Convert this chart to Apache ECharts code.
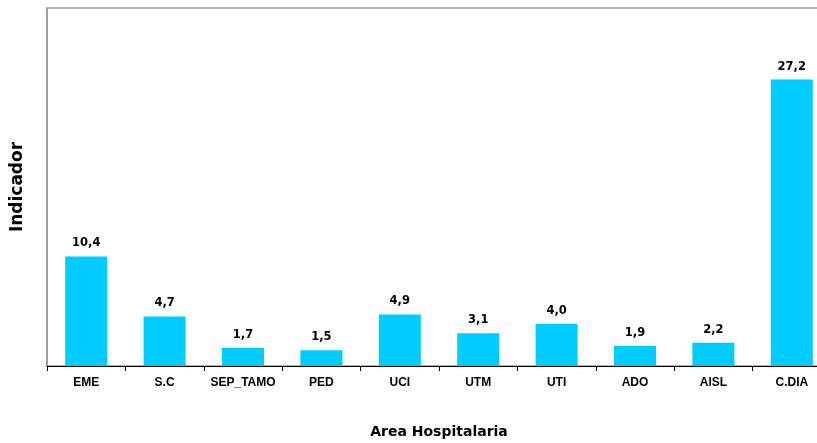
<!DOCTYPE html>
<html><head><meta charset="utf-8">
<script src="https://cdn.jsdelivr.net/npm/echarts@6/dist/echarts.min.js"></script>
<style>html,body{margin:0;padding:0;background:#fff}#c{width:817px;height:443px}</style>
</head><body><div id="c"></div>
<script>
var categories = ['EME','S.C','SEP_TAMO','PED','UCI','UTM','UTI','ADO','AISL','C.DIA'];
var values = [10.4, 4.7, 1.7, 1.5, 4.9, 3.1, 4.0, 1.9, 2.2, 27.2];
var chart = echarts.init(document.getElementById('c'));
var font = '"Liberation Sans", Arial, sans-serif';
var wide = '"DejaVu Sans", sans-serif';
chart.setOption({
  animation: false,
  grid: {left: 47, top: 8, width: 784, height: 358, outerBoundsMode: 'none', containLabel: false,
         show: true, borderColor: '#999', borderWidth: 1.5, backgroundColor: 'transparent'},
  xAxis: {
    type: 'category', data: categories,
    name: 'Area Hospitalaria', nameLocation: 'middle', nameGap: 59,
    nameTextStyle: {fontFamily: wide, fontWeight: 'bold', fontSize: 14, color: '#000'},
    axisLine: {lineStyle: {color: '#000', width: 1}},
    axisTick: {show: true, length: 5, lineStyle: {color: '#000'}},
    axisLabel: {fontFamily: font, fontWeight: 'bold', fontSize: 12, color: '#000', margin: 11, interval: 0}
  },
  yAxis: {
    type: 'value', min: 0, max: 34,
    name: 'Indicador', nameLocation: 'middle', nameGap: 21,
    nameTextStyle: {fontFamily: wide, fontWeight: 'bold', fontSize: 17, color: '#000'},
    axisLine: {show: true, lineStyle: {color: '#999', width: 1.5}},
    axisTick: {show: false}, axisLabel: {show: false}, splitLine: {show: false}
  },
  series: [{
    type: 'bar', data: values, barWidth: 42,
    itemStyle: {color: '#00CCFF'},
    label: {show: true, position: 'top', distance: 7, fontFamily: wide, fontWeight: 'bold', fontSize: 11.5, color: '#000',
      formatter: function(p){ return p.value.toFixed(1).replace('.', ','); }}
  }]
});
</script></body></html>
